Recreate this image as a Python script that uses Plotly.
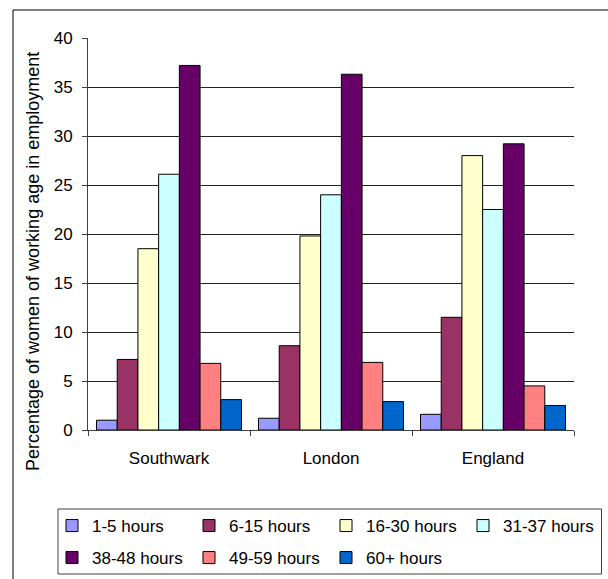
import plotly.graph_objects as go

categories = ["Southwark", "London", "England"]
series_names = ["1-5 hours", "6-15 hours", "16-30 hours", "31-37 hours",
                "38-48 hours", "49-59 hours", "60+ hours"]
h1_5 = [1.0, 1.2, 1.6]
h6_15 = [7.2, 8.6, 11.5]
h16_30 = [18.5, 19.8, 28.0]
h31_37 = [26.1, 24.0, 22.5]
h38_48 = [37.2, 36.3, 29.2]
h49_59 = [6.8, 6.9, 4.5]
h60p = [3.1, 2.9, 2.5]
series_values = [h1_5, h6_15, h16_30, h31_37, h38_48, h49_59, h60p]
colors = ["#9999FF", "#993366", "#FFFFCC", "#CCFFFF", "#660066", "#FF8080", "#0066CC"]
y_ticks = [0, 5, 10, 15, 20, 25, 30, 35, 40]
y_title = "Percentage of women of working age in employment"

FONT = "Liberation Sans, Arial, sans-serif"

fig = go.Figure()
for i, (name, vals, col) in enumerate(zip(series_names, series_values, colors)):
    fig.add_trace(go.Bar(
        x=categories, y=vals, name=name,
        marker=dict(color=col, line=dict(color="black", width=1)),
        legend="legend" if i < 4 else "legend2",
    ))

L, R, T, B = 88, 34, 38, 149
W, H = 608, 579
pw, ph = W - L - R, H - T - B

def px(x):
    return (x - L) / pw

def py(y):
    return (H - B - y) / ph

legend_common = dict(
    orientation="h", xref="paper", yref="paper",
    xanchor="left", yanchor="middle",
    font=dict(family=FONT, size=17, color="black"),
    bgcolor="rgba(0,0,0,0)", borderwidth=0,
    entrywidth=92, entrywidthmode="pixels", itemclick=False,
)

fig.update_layout(
    width=W, height=H,
    margin=dict(l=L, r=R, t=T, b=B, pad=0, autoexpand=False),
    paper_bgcolor="white", plot_bgcolor="white",
    font=dict(family=FONT, size=17, color="black"),
    barmode="group", bargap=0.105, bargroupgap=0,
    legend=dict(x=px(52), y=py(526), **legend_common),
    legend2=dict(x=px(52), y=py(558), **legend_common),
    xaxis=dict(
        automargin=False,
        showline=True, linecolor="#404040", linewidth=1,
        ticks="outside", ticklen=5, tickcolor="#404040", tickson="boundaries",
        tickfont=dict(family=FONT, size=17, color="black"),
        ticklabelstandoff=13, showgrid=False,
    ),
    yaxis=dict(
        automargin=False,
        range=[0, 40], tickvals=y_ticks,
        showline=True, linecolor="#404040", linewidth=1,
        ticks="outside", ticklen=5, tickcolor="#404040",
        showgrid=True, gridcolor="#222222", gridwidth=1,
        zeroline=False,
        tickfont=dict(family=FONT, size=17, color="black"),
        ticklabelstandoff=6,
    ),
    annotations=[
        dict(text=y_title, xref="paper", yref="paper", x=px(33), y=py(262),
             xanchor="center", yanchor="middle", textangle=-90, showarrow=False,
             font=dict(family=FONT, size=18, color="black")),
    ],
    shapes=[
        dict(type="rect", xref="paper", yref="paper",
             x0=px(13), x1=px(640), y0=py(10), y1=py(620),
             line=dict(color="black", width=1), fillcolor="rgba(0,0,0,0)", layer="below"),
        dict(type="rect", xref="paper", yref="paper",
             x0=px(58), x1=px(601.5), y0=py(509), y1=py(574),
             line=dict(color="#404040", width=1), fillcolor="rgba(0,0,0,0)"),
    ],
)

fig.write_html("out.html", config={"displayModeBar": False},
               post_script="document.body.style.margin='0px';")
